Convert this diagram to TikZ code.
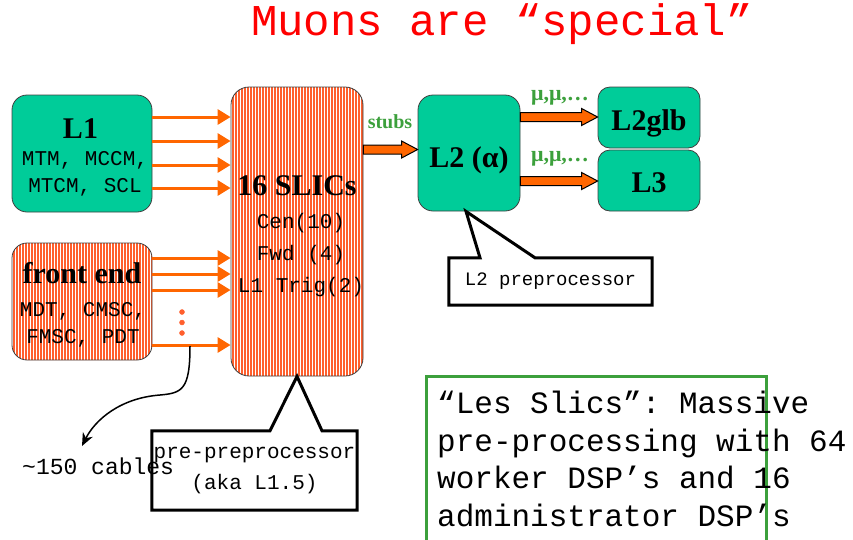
\documentclass[tikz,border=0pt]{standalone}
\usepackage{fontspec}
\setmainfont{Liberation Serif}
\setmonofont{Liberation Mono}
\usetikzlibrary{arrows.meta,patterns.meta,calc}

\definecolor{boxteal}{RGB}{0,204,153}
\definecolor{feedorange}{RGB}{255,102,0}
\definecolor{stripered}{RGB}{255,95,45}
\definecolor{notegreen}{RGB}{60,160,60}

\tikzset{
  tealbox/.style={draw=black!75, line width=0.8pt, fill=boxteal, rounded corners=15pt},
  stripebox/.style={draw=black!75, line width=0.8pt, rounded corners=15pt,
    preaction={fill=stripered}, pattern={Lines[angle=90,distance=3pt,line width=0.9pt]}, pattern color=white},
  feed/.style={feedorange, line width=3pt, -{Triangle[length=13pt,width=15pt]}},
  bigtxt/.style={font=\fontsize{30}{30}\selectfont\bfseries, inner sep=0pt, anchor=base},
  monotxt/.style={font=\fontsize{21}{21}\selectfont\ttfamily, inner sep=0pt, anchor=base},
  greentxt/.style={font=\fontsize{22}{22}\selectfont\bfseries, text=notegreen, inner sep=0pt, anchor=base},
  calloutbox/.style={rectangle, fill=white, inner sep=0pt, align=center},
  calloutline/.style={draw=black, line width=3pt},
  blockarrow/.style={draw=black, line width=1pt, fill=feedorange},
}

\newcommand{\blockarrow}[2]{%
  \draw[blockarrow] let \p1=(#1), \p2=(#2) in
    (\x1,\y1+4.5pt) -- (\x2-16pt,\y1+4.5pt) -- (\x2-16pt,\y1+8.5pt) -- (\x2,\y1)
    -- (\x2-16pt,\y1-8.5pt) -- (\x2-16pt,\y1-4.5pt) -- (\x1,\y1-4.5pt) -- cycle;}

\begin{document}
\begin{tikzpicture}[x=1pt,y=-1pt]
			\useasboundingbox (0,0) rectangle (853,539);
			\node[font=\fontsize{44}{44}\selectfont\ttfamily, text=red, anchor=base] (title) at (502,35) {Muons are “special”};
			
			\node[tealbox, minimum width=140pt, minimum height=117pt] (l1) at (82,153.5) {};
			\node[bigtxt] (l1name) at (80.5,138) {L1};
			\node[monotxt] (l1sub) at (85,165) {MTM, MCCM,};
			\node[monotxt] (l1subb) at (85,192) {MTCM, SCL};
			
			\node[stripebox, minimum width=140pt, minimum height=117pt] (front) at (82,301.5) {};
			\node[bigtxt] (frontname) at (82,283) {front end};
			\node[monotxt] (frontsub) at (83,316) {MDT, CMSC,};
			\node[monotxt] (frontsubb) at (83,343) {FMSC, PDT};
			
			\node[stripebox, rounded corners=18pt, minimum width=132pt, minimum height=289pt] (slics) at (297,231.5) {};
			\node[bigtxt] (slicsname) at (297,195) {16 SLICs};
			\node[monotxt] (cen) at (301,228) {Cen(10)};
			\node[monotxt] (fwd) at (301,260) {Fwd (4)};
			\node[monotxt] (trig) at (301,292) {L1 Trig(2)};
			
			\node[tealbox, minimum width=102pt, minimum height=116pt] (l2) at (469,153) {};
			\node[bigtxt] (l2name) at (469,167) {L2 (α)};
			\node[tealbox, rounded corners=12pt, minimum width=102pt, minimum height=61pt] (l2glb) at (649,117.5) {};
			\node[bigtxt] (l2glbname) at (649,130) {L2glb};
			\node[tealbox, rounded corners=12pt, minimum width=102pt, minimum height=61pt] (l3) at (649,180.5) {};
			\node[bigtxt] (l3name) at (649,192) {L3};
			
			\draw[feed] (l1.east |- 0,117) -- (slics.west |- 0,117);
			\draw[feed] (l1.east |- 0,141) -- (slics.west |- 0,141);
			\draw[feed] (l1.east |- 0,165) -- (slics.west |- 0,165);
			\draw[feed] (l1.east |- 0,188) -- (slics.west |- 0,188);
			\draw[feed] (front.east |- 0,258) -- (slics.west |- 0,258);
			\draw[feed] (front.east |- 0,274) -- (slics.west |- 0,274);
			\draw[feed] (front.east |- 0,290) -- (slics.west |- 0,290);
			\draw[feed] (front.east |- 0,345) -- (slics.west |- 0,345);
			\filldraw[stripered] (182,312) circle (2.5pt);
			\filldraw[stripered] (182,322.5) circle (2.5pt);
			\filldraw[stripered] (182,333) circle (2.5pt);
			
			\blockarrow{slics.east |- 0,149.5}{l2.west |- 0,149.5}
			\node[greentxt, font=\fontsize{20}{20}\selectfont\bfseries] (stubs) at (390,128) {stubs};
			\blockarrow{l2.east |- 0,117}{l2glb.west |- 0,117}
			\node[greentxt] (mufirst) at (560,100) {μ,μ,…};
			\blockarrow{l2.east |- 0,181}{l3.west |- 0,181}
			\node[greentxt] (musecond) at (560,161) {μ,μ,…};
			
			\node[calloutbox, minimum width=203pt, minimum height=47pt, font=\fontsize{19}{19}\selectfont\ttfamily] (l2pre) at (550.5,281.5) {L2 preprocessor};
			\draw[calloutline] (l2pre.north west) -- (l2pre.north -| 480,0) -- (l2.south -| 466,0) -- (l2pre.north -| 535,0) -- (l2pre.north east) -- (l2pre.south east) -- (l2pre.south west) -- cycle;
			\node[calloutbox, minimum width=205pt, minimum height=79pt, font=\fontsize{21}{31}\selectfont\ttfamily] (prepre) at (254.5,470.5) {pre-preprocessor\\(aka L1.5)};
			\draw[calloutline] (prepre.north west) -- (prepre.north -| 270,0) -- (slics.south) -- (prepre.north -| 322,0) -- (prepre.north east) -- (prepre.south east) -- (prepre.south west) -- cycle;
			
			\coordinate (cabletop) at (190,346);
			\coordinate (cabletip) at (82,446);
			\draw[line width=1.5pt, -{Stealth[length=13pt,width=11pt]}] (cabletop) .. controls (190,390) and (182,393) .. (160,395) .. controls (120,398) and (95,420) .. (cabletip);
			\node[font=\fontsize{23}{23}\selectfont\ttfamily, inner sep=0pt, anchor=base west] (cables) at (22,474) {\char`\~150 cables};
			
			\node[draw=notegreen, line width=3pt, minimum width=340pt, minimum height=170pt, anchor=north west] (note) at (425,375) {};
			\node[anchor=north west, align=left, inner sep=0pt, font=\fontsize{31}{37.5}\selectfont\ttfamily] (notetext) at (437,391) {“Les Slics”: Massive\\pre-processing with 64\\worker DSP’s and 16\\administrator DSP’s};
\end{tikzpicture}
\end{document}
